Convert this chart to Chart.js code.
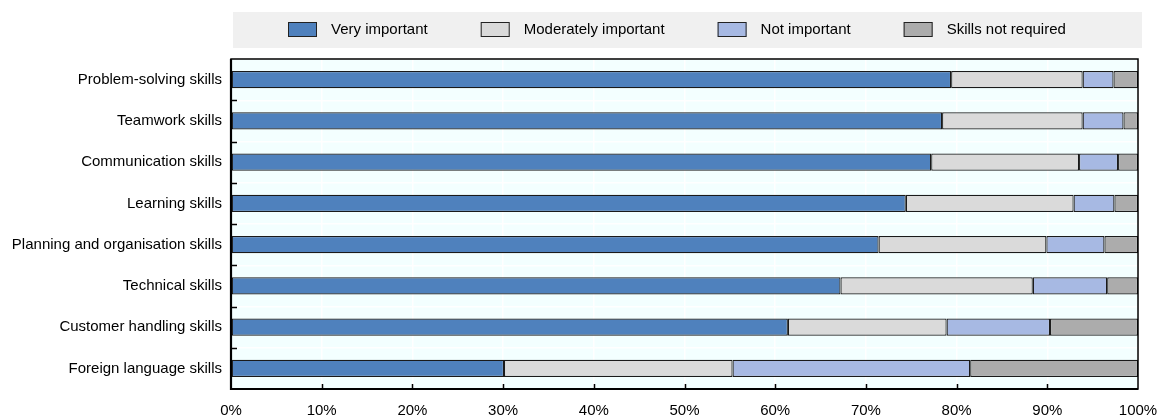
<!DOCTYPE html>
<html>
<head>
<meta charset="utf-8">
<script src="https://cdn.jsdelivr.net/npm/chart.js@4"></script>
<style>
  body { margin: 0; background: #fff; }
  #wrap { width: 1159px; height: 417px; position: relative; }
</style>
</head>
<body>
<div id="wrap"><canvas id="skillsChart"></canvas></div>
<script>
const categories = [
  "Problem-solving skills",
  "Teamwork skills",
  "Communication skills",
  "Learning skills",
  "Planning and organisation skills",
  "Technical skills",
  "Customer handling skills",
  "Foreign language skills"
];
const seriesNames = ["Very important", "Moderately important", "Not important", "Skills not required"];
const veryImportant = [79.4, 78.4, 77.2, 74.4, 71.4, 67.2, 61.4, 30.1];
const moderatelyImportant = [14.5, 15.5, 16.3, 18.5, 18.5, 21.2, 17.5, 25.2];
const notImportant = [3.4, 4.5, 4.3, 4.5, 6.4, 8.2, 11.4, 26.2];
const notRequired = [2.7, 1.6, 2.2, 2.6, 3.7, 3.4, 9.7, 18.5];
const xTicks = [0, 10, 20, 30, 40, 50, 60, 70, 80, 90, 100];

const FONT_FAMILY = "'Liberation Sans', Arial, sans-serif";
const FONT_SIZE = 15;
const colors = ["#4f81bd", "#dadada", "#a7b9e3", "#acacac"];

// background, legend box and legend items
const backdrop = {
  id: "backdrop",
  beforeDraw(chart) {
    const { ctx, chartArea: a } = chart;
    ctx.save();
    ctx.fillStyle = "#f0f0f0";
    ctx.fillRect(a.left + 2, 12, a.right - a.left + 2, 36);
    ctx.fillStyle = "#f3ffff";
    ctx.fillRect(a.left, a.top, a.right - a.left, a.bottom - a.top);

    ctx.font = FONT_SIZE + "px " + FONT_FAMILY;
    const sets = chart.data.datasets;
    const widths = sets.map(d => ctx.measureText(d.label).width);
    const total = widths.reduce((s, w) => s + 29 + 14 + w, 0) + 53 * (sets.length - 1);
    let x = Math.round((a.left + a.right) / 2 - total / 2 - 8);
    sets.forEach((d, i) => {
      ctx.fillStyle = d.backgroundColor;
      ctx.fillRect(x, 22, 29, 15);
      ctx.strokeStyle = "#222";
      ctx.lineWidth = 1;
      ctx.strokeRect(x + 0.5, 22.5, 28, 14);
      ctx.fillStyle = "#000";
      ctx.textBaseline = "middle";
      ctx.textAlign = "left";
      ctx.fillText(d.label, x + 43, 30);
      x += 29 + 14 + widths[i] + 53;
    });
    ctx.restore();
  },
  afterDraw(chart) {
    const { ctx, chartArea: a } = chart;
    const xs = chart.scales.x, ys = chart.scales.y;
    ctx.save();
    ctx.strokeStyle = "#000";
    ctx.lineWidth = 1.5;
    ctx.strokeRect(a.left, a.top, a.right - a.left, a.bottom - a.top);
    ctx.lineWidth = 2.2;
    ctx.beginPath();
    ctx.moveTo(a.left, a.top);
    ctx.lineTo(a.left, a.bottom);
    ctx.lineTo(a.right, a.bottom);
    ctx.stroke();
    ctx.lineWidth = 1.5;
    ctx.beginPath();
    xTicks.slice(1, -1).forEach(v => {
      const px = Math.round(xs.getPixelForValue(v)) + 0.5;
      ctx.moveTo(px, a.bottom);
      ctx.lineTo(px, a.bottom - 5);
    });
    for (let i = 0; i < categories.length - 1; i++) {
      const py = Math.round((ys.getPixelForValue(i) + ys.getPixelForValue(i + 1)) / 2) + 0.5;
      ctx.moveTo(a.left, py);
      ctx.lineTo(a.left + 6, py);
    }
    ctx.stroke();
    ctx.restore();
  }
};

const seriesData = [veryImportant, moderatelyImportant, notImportant, notRequired];

new Chart(document.getElementById("skillsChart"), {
  type: "bar",
  data: {
    labels: categories,
    datasets: seriesNames.map((name, i) => ({
      label: name,
      data: seriesData[i],
      backgroundColor: colors[i],
      borderColor: "#1a1a1a",
      borderWidth: 1.2,
      borderSkipped: false,
      barPercentage: 0.42,
      categoryPercentage: 1
    }))
  },
  options: {
    indexAxis: "y",
    responsive: true,
    maintainAspectRatio: false,
    animation: false,
    layout: { padding: { top: 59, right: 21, left: 0, bottom: 0 } },
    plugins: {
      legend: { display: false },
      tooltip: { enabled: false }
    },
    scales: {
      x: {
        stacked: true,
        min: 0,
        max: 100,
        afterBuildTicks: s => { s.ticks = xTicks.map(v => ({ value: v })); },
        afterFit: s => {
          s.height = 28;
          s.paddingLeft = 0;
          s.paddingRight = 0;
        },
        grid: { color: "#ffffff", lineWidth: 1.5, drawTicks: false },
        border: { display: false },
        ticks: {
          padding: 13,
          color: "#000",
          maxRotation: 0,
          font: { family: FONT_FAMILY, size: FONT_SIZE },
          callback: v => v + "%"
        }
      },
      y: {
        stacked: true,
        afterFit: s => { s.width = 231; },
        grid: { color: "#ffffff", lineWidth: 1.5, offset: true, drawTicks: false },
        border: { display: false },
        ticks: {
          padding: 9,
          color: "#000",
          font: { family: FONT_FAMILY, size: FONT_SIZE }
        }
      }
    }
  },
  plugins: [backdrop]
});
</script>
</body>
</html>
